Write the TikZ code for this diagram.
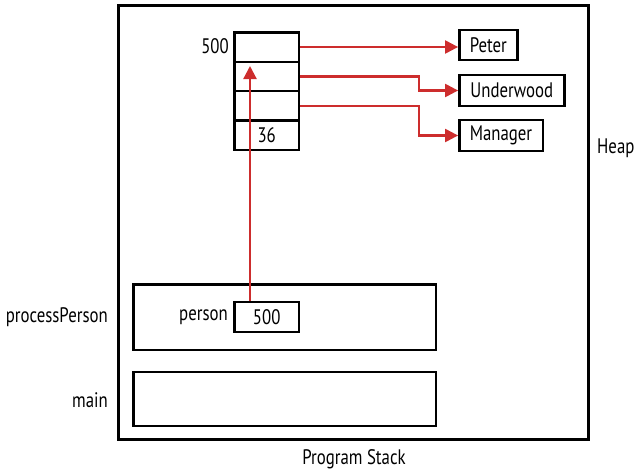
\documentclass[tikz,border=0pt]{standalone}
\usepackage{fontspec}
\setmainfont{PT Sans}[FakeStretch=0.8]
\usetikzlibrary{arrows.meta,calc}
\definecolor{arrred}{RGB}{205,45,45}
\begin{document}
\begin{tikzpicture}[x=1pt,y=-1pt,
  every node/.style={font=\fontsize{21}{23}\selectfont, inner sep=0pt},
  box/.style={draw, line width=2.4pt, minimum width=#1},
  cell/.style={draw, line width=2.4pt, minimum width=64.7pt, minimum height=29.4pt},
  frame/.style={draw, line width=2.4pt},
  ptr/.style={draw=arrred, line width=2.2pt, -{Triangle[length=13pt,width=13pt]}}]
\useasboundingbox (0,0) rectangle (643,474);
% outer frame
\draw[line width=3pt] (118.5,5) rectangle (588,439);
% heap cells
\node[cell] (c1) at (266.7,47) {};
\node[cell] (c2) at (266.7,76.4) {};
\node[cell] (c3) at (266.7,105.8) {};
\node[cell] (c4) at (266.7,135.2) {36};
\node[anchor=east] (addr) at (229,46) {500};
% strings
\node[box=58pt, minimum height=30pt] (peter) at (488.3,45) {Peter};
\node[box=105pt, minimum height=31pt] (under) at (511.8,90.5) {Underwood};
\node[box=83.4pt, minimum height=31pt] (mgr) at (501,135.5) {Manager};
% stack frames
\node[frame, minimum width=302.4pt, minimum height=65.7pt] (pp) at (284.5,317.2) {};
\node[frame, minimum width=302.4pt, minimum height=54.3pt] (mainf) at (284.5,398.9) {};
\node[cell, minimum height=30pt] (p500) at (266.7,317) {500};
\node[anchor=east] (person) at (228,317) {person};
\node[anchor=east] (pplbl) at (108,317) {processPerson};
\node[anchor=east] (mainlbl) at (108,400) {main};
\node[anchor=west] (heap) at (597,148) {Heap};
\node (stack) at (354,459) {Program Stack};
% pointers
\draw[ptr] (c1.east) -- (c1.east -| peter.west);
\draw[ptr] (c2.east) -- ++(119,0) |- (under.west);
\draw[ptr] (c3.east) -- ++(119,0) |- (mgr.west);
\coordinate (upstart) at ($(p500.north)+(-16.7,0)$);
\coordinate (uptip) at (250,66);
\draw[ptr] (upstart) -- (uptip);
\end{tikzpicture}
\end{document}
